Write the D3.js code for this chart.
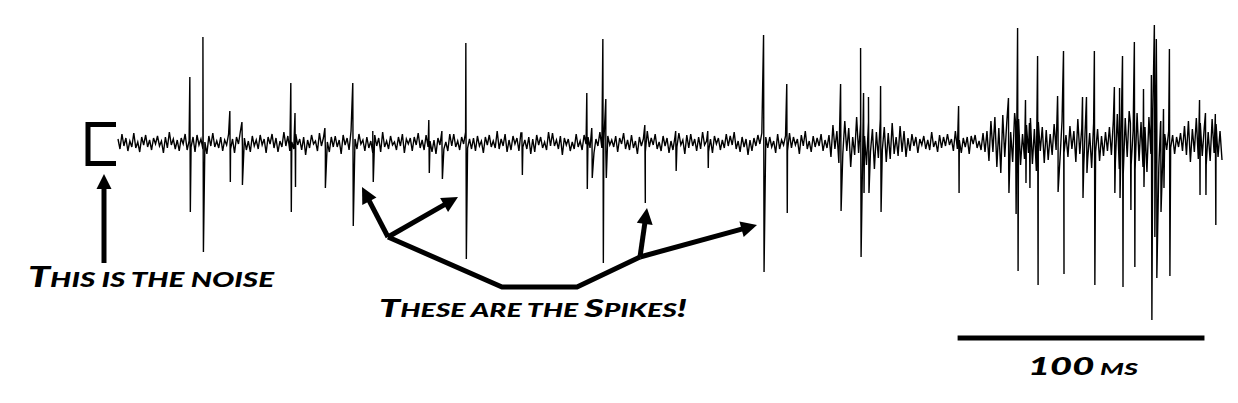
<!DOCTYPE html>
<html>
<head>
<meta charset="utf-8">
<script src="https://cdn.jsdelivr.net/npm/d3@7"></script>
<style>
html,body{margin:0;padding:0;background:#fff;}
svg{display:block;}
.lbl{font-family:"Lato","Open Sans",sans-serif;font-style:italic;font-weight:900;fill:#000;}
</style>
</head>
<body>
<div id="chart"></div>
<script>
// ---- data ----
// sampling interval of the background trace (ms)
const sampleInterval = 0.8;
// background (noise) samples, µV
const noise = [
4,-6,9,-3,5,-8,2,-4,10,-5,
1,-9,6,-2,8,-4,3,-7,5,-1,
7,-3,2,-10,6,-5,11,-2,4,-6,
3,-8,5,-1,9,-7,2,-4,6,-9,
8,-2,4,-6,1,-11,7,-3,10,-4,
2,-5,6,-8,3,-2,9,-6,4,-10,
6,-1,12,-4,5,-7,2,-9,7,-3,
3,-6,8,-2,4,-10,6,-1,9,-5,
5,-9,2,-4,11,-3,7,-8,1,-6,
9,-2,4,-7,6,-12,3,-5,8,-1,
2,-8,10,-3,5,-6,1,-9,6,-4,
7,-4,3,-11,8,-2,5,-7,12,-3,
4,-6,9,-1,3,-8,6,-5,2,-10,
8,-3,5,-9,11,-4,2,-6,7,-2,
1,-7,6,-3,9,-10,4,-1,5,-8,
6,-2,10,-5,3,-7,8,-4,2,-9,
3,-11,5,-2,7,-6,1,-8,9,-3,
9,-4,2,-7,6,-1,11,-5,4,-6,
5,-8,7,-3,2,-10,6,-2,8,-4,
2,-5,12,-6,4,-3,9,-9,3,-7,
7,-1,5,-8,10,-4,3,-6,6,-11,
4,-9,8,-2,6,-5,1,-7,11,-3,
10,-3,3,-6,7,-12,5,-2,4,-8,
1,-6,9,-4,2,-7,8,-1,6,-5,
6,-10,4,-3,11,-5,2,-8,7,-2,
3,-4,7,-9,5,-1,10,-6,3,-7,
8,-5,2,-11,6,-3,4,-9,12,-4,
5,-2,9,-6,1,-8,7,-3,5,-10,
2,-7,6,-4,10,-2,3,-11,8,-5,
9,-3,4,-8,6,-6,11,-2,2,-9,
4,-10,7,-1,5,-7,3,-5,9,-3,
7,-2,11,-6,2,-9,6,-4,4,-12,
3,-8,5,-3,8,-1,10,-7,6,-5,
6,-4,2,-10,9,-6,3,-2,7,-8,
10,-5,6,-2,4,-11,8,-3,12,-6,
2,-9,7,-4,5,-3,9,-8,3,-5,
8,-14,18,-6,12,-20,9,-11,22,-8,
15,-24,6,-12,26,-10,19,-17,7,-22,
21,-9,14,-26,11,-15,24,-7,16,-19,
10,-16,20,-11,6,-13,17,-9,12,-14,
5,-8,9,-3,6,-10,4,-2,7,-6,
3,-7,11,-4,2,-9,8,-5,6,-3,
9,-2,4,-8,12,-6,3,-10,5,-4,
6,-11,7,-1,8,-5,2,-7,10,-9,
12,-18,22,-9,26,-24,15,-30,28,-14,
20,-26,11,-19,30,-12,24,-22,9,-16,
18,-10,25,-21,14,-28,21,-8,16,-20,
13,-17,9,-12,19,-7,11,-15,22,-10,
8,-14,17,-6,12,-19,24,-11,15,-23,
27,-16,10,-25,20,-9,14,-18,7,-13,
11,-8,16,-12,23,-20,29,-26,18,-31,
25,-14,32,-22,12,-27,30,-18,21,-24,
16,-29,26,-11,34,-20,14,-25,22,-15,
9,-7,12,-5,8,-11,6,-4,10,-8,
17,-12,22,-19,14,-9,25,-16,20,-13,
15,-22,11,-18,24,-10,19,-14,12,-17
];
// spike times (ms), peak (µV) and trough (µV)
const spikeTimes = [29.1,34.4,45.3,50.2,70.0,71.7,83.8,95.1,103.2,125.9,131.2,140.9,163.6,189.9,191.9,196.4,197.6,213.4,225.9,238.9,261.5,270.9,292.7,300.8,302.0,304.0,308.9,340.5,360.7,363.6,364.4,367.6,369.2,372.5,380.6,383.0,390.7,392.3,395.5,403.6,405.7,406.9,410.1,411.7,415.4,418.6,419.8,420.6,422.3,423.5,425.9,438.1,440.5,444.5];
const spikePeaks = [66,106,32,21,60,30,15,60,12,23,12,100,10,50,15,104,44,18,12,12,108,59,59,95,50,46,57,37,45,20,115,43,20,87,47,92,46,46,92,56,55,87,20,101,54,68,118,104,20,34,94,43,30,29];
const spikeTroughs = [-69,-109,-39,-42,-69,-44,-45,-83,-39,-30,-36,-116,-32,-46,-35,-120,-35,-60,-28,-25,-129,-70,-68,-114,-50,-50,-69,-50,-50,-71,-128,-40,-45,-142,-49,-131,-55,-30,-142,-50,-55,-144,-67,-124,-44,-177,-94,-135,-69,-45,-133,-52,-52,-82];
// scale bar
const scaleBarStart = 340.1;
const scaleBarLength = 100;
const scaleBarLabel = "100 ms";
// annotation texts
const noiseLabel = "This is the noise";
const spikeLabel = "These are the Spikes!";

// ---- drawing ----
const W = 1238, H = 403;
const svg = d3.select("#chart").append("svg").attr("width", W).attr("height", H);
svg.append("rect").attr("width", W).attr("height", H).attr("fill", "#fff");

const tMax = (noise.length - 1) * sampleInterval;
const x = d3.scaleLinear().domain([0, tMax]).range([118, 1222]);
const y = d3.scaleLinear().domain([-180, 120]).range([323, 23]);

const pts = noise.map((v, i) => ({t: i * sampleInterval, v}));
spikeTimes.forEach((t, i) => {
  pts.push({t: t, v: spikePeaks[i]});
  pts.push({t: t + 0.2, v: spikeTroughs[i]});
});
pts.sort((a, b) => a.t - b.t);

const line = d3.line().x(d => x(d.t)).y(d => y(d.v));
svg.append("path").datum(pts).attr("d", line)
  .attr("fill", "none").attr("stroke", "#000").attr("stroke-width", 1.4)
  .attr("stroke-linejoin", "miter");

// arrow helper
function arrow(g, pointsArr, headLen = 16, headW = 16, sw = 5) {
  const n = pointsArr.length;
  const [x2, y2] = pointsArr[n - 1];
  const [x1, y1] = pointsArr[n - 2];
  const dx = x2 - x1, dy = y2 - y1, L = Math.hypot(dx, dy);
  const ux = dx / L, uy = dy / L;
  const bx = x2 - ux * headLen, by = y2 - uy * headLen;
  const shaft = pointsArr.slice(0, n - 1).concat([[bx + ux * 2, by + uy * 2]]);
  g.append("path").attr("d", d3.line()(shaft)).attr("fill", "none")
    .attr("stroke", "#000").attr("stroke-width", sw).attr("stroke-linejoin", "miter");
  const px = -uy, py = ux;
  g.append("path").attr("d", d3.line()([[x2, y2], [bx + px * headW / 2, by + py * headW / 2], [bx - px * headW / 2, by - py * headW / 2]]) + "Z")
    .attr("fill", "#000");
}

// small-caps text: capitals in source at big size, lowercase uppercased at small size
function smallCaps(g, str, px, py, big, small, len) {
  const t = g.append("text").attr("class", "lbl").attr("x", px).attr("y", py)
    .attr("textLength", len).attr("lengthAdjust", "spacingAndGlyphs");
  const runs = [];
  for (const ch of str) {
    const isBig = ch !== ch.toLowerCase() || /[0-9!]/.test(ch);
    const size = isBig ? big : small;
    if (runs.length && runs[runs.length - 1].size === size) runs[runs.length - 1].s += ch.toUpperCase();
    else runs.push({s: ch.toUpperCase(), size});
  }
  runs.forEach(r => t.append("tspan").attr("font-size", r.size).text(r.s));
  return t;
}

const ann = svg.append("g");
// bracket marking the noise band
const x0 = x(0);
ann.append("path")
  .attr("d", d3.line()([[x0 - 2, y(18.5)], [x0 - 30, y(18.5)], [x0 - 30, y(-20.5)], [x0 - 2, y(-20.5)]]))
  .attr("fill", "none").attr("stroke", "#000").attr("stroke-width", 5);
arrow(ann, [[x0 - 14, 263], [x0 - 14, 174]], 15, 15, 5);

smallCaps(ann, noiseLabel, 28, 287, 28, 21, 246);

// spikes annotation
const hub = [388, 237];
arrow(ann, [hub, [362, 187]], 16, 16, 5);
arrow(ann, [hub, [458, 197]], 16, 16, 5);
const knee = [640, 257];
ann.append("path").attr("d", d3.line()([hub, [502, 287], [577, 287], knee]))
  .attr("fill", "none").attr("stroke", "#000").attr("stroke-width", 5).attr("stroke-linejoin", "miter");
arrow(ann, [knee, [647, 208]], 16, 16, 5);
arrow(ann, [knee, [757, 225]], 16, 16, 5);

smallCaps(ann, spikeLabel, 379, 317, 24, 18, 308);

// scale bar
ann.append("line")
  .attr("x1", x(scaleBarStart)).attr("x2", x(scaleBarStart + scaleBarLength))
  .attr("y1", 338).attr("y2", 338).attr("stroke", "#000").attr("stroke-width", 5);
smallCaps(ann, scaleBarLabel, 1028, 375, 24, 17, 110);
</script>
</body>
</html>
